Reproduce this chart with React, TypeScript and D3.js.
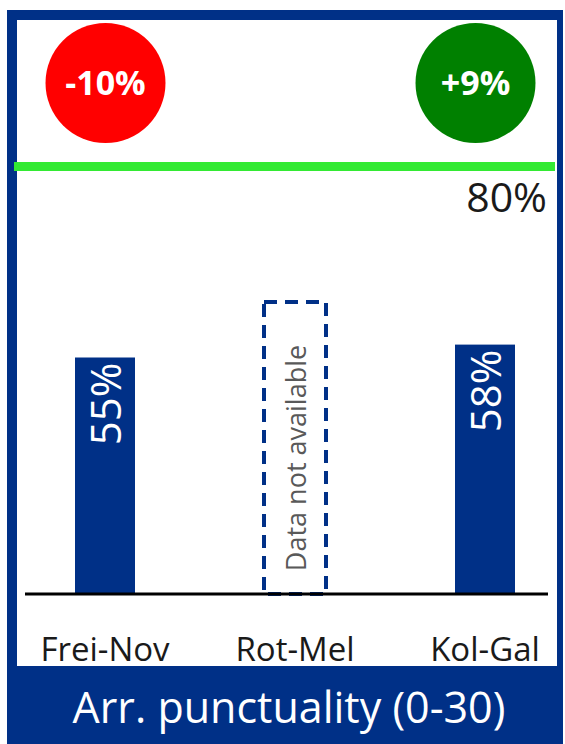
import React, { useEffect, useRef } from 'react';
import * as d3 from 'd3';

// chart data
const categories = ['Frei-Nov', 'Rot-Mel', 'Kol-Gal'];
const values: (number | null)[] = [55, null, 58];
const valueLabels = ['55%', 'Data not available', '58%'];
const changes = ['-10%', '+9%'];
const changeColors = ['#ff0000', '#008000'];
const target = 80;
const title = 'Arr. punctuality (0-30)';

const W = 565;
const H = 744;
const BLUE = '#003087';
const FONT = '"Open Sans", "Noto Sans", sans-serif';

const App = () => {
    const svgRef = useRef<SVGSVGElement>(null);

    useEffect(() => {
        const svg = d3.select(svgRef.current);
        svg.selectAll('*').remove();

        // frame: blue border with white inner panel and title band
        svg.append('rect').attr('x', 7).attr('y', 10).attr('width', 556).attr('height', H - 10).attr('fill', BLUE);
        svg.append('rect').attr('x', 17).attr('y', 20).attr('width', 540).attr('height', 646).attr('fill', '#ffffff');

        const x = d3.scalePoint<string>().domain(categories).range([105, 485]);
        const y = d3.scaleLinear().domain([0, 100]).range([594, 164]);
        const barW = 60;

        // change bubbles at top corners
        const bx = d3.scalePoint<string>().domain(changes).range([105.5, 475.5]);
        const bubbles = svg
            .selectAll('g.bubble')
            .data(changes)
            .enter()
            .append('g')
            .attr('class', 'bubble')
            .attr('transform', (d) => `translate(${bx(d)},83)`);
        bubbles.append('circle').attr('r', 60).attr('fill', (d, i) => changeColors[i]);
        bubbles
            .append('text')
            .attr('y', 12)
            .attr('text-anchor', 'middle')
            .style('font-family', FONT)
            .style('font-weight', 700)
            .style('font-size', '34px')
            .style('fill', '#ffffff')
            .text((d) => d);

        // target line (80%)
        svg.append('rect').attr('x', 14).attr('y', 162).attr('width', 541).attr('height', 9).attr('fill', '#33ea33');
        svg.append('text')
            .attr('x', 547)
            .attr('y', 212)
            .attr('text-anchor', 'end')
            .style('font-family', FONT)
            .style('font-size', '41px')
            .style('fill', '#1a1a1a')
            .text(`${target}%`);

        const rows = categories.map((c, i) => ({ cat: c, value: values[i], label: valueLabels[i] }));

        // bars
        svg.selectAll('rect.bar')
            .data(rows.filter((d) => d.value !== null))
            .enter()
            .append('rect')
            .attr('class', 'bar')
            .attr('x', (d) => x(d.cat)! - barW / 2)
            .attr('y', (d) => y(d.value as number))
            .attr('width', barW)
            .attr('height', (d) => y(0) - y(d.value as number))
            .attr('fill', BLUE);

        svg.selectAll('text.val')
            .data(rows.filter((d) => d.value !== null))
            .enter()
            .append('text')
            .attr('class', 'val')
            .attr('transform', (d) => `translate(${x(d.cat)! + 16},${y(d.value as number) + 5}) rotate(-90)`)
            .attr('text-anchor', 'end')
            .style('font-family', FONT)
            .style('font-size', '42px')
            .style('fill', '#ffffff')
            .text((d) => d.label);

        // missing data placeholder
        const missing = rows.filter((d) => d.value === null);
        svg.selectAll('rect.na')
            .data(missing)
            .enter()
            .append('rect')
            .attr('class', 'na')
            .attr('x', (d) => x(d.cat)! - 31)
            .attr('y', 302)
            .attr('width', 62)
            .attr('height', y(0) - 302)
            .attr('fill', 'none')
            .attr('stroke', BLUE)
            .attr('stroke-width', 4)
            .attr('stroke-dasharray', '13 8');
        svg.selectAll('text.na')
            .data(missing)
            .enter()
            .append('text')
            .attr('class', 'na')
            .attr('transform', (d) => `translate(${x(d.cat)! + 11},458) rotate(-90)`)
            .attr('text-anchor', 'middle')
            .style('font-family', FONT)
            .style('font-size', '27px')
            .style('fill', '#595959')
            .text((d) => d.label);

        // baseline
        svg.append('line')
            .attr('x1', 25)
            .attr('x2', 548)
            .attr('y1', y(0))
            .attr('y2', y(0))
            .attr('stroke', '#000000')
            .attr('stroke-width', 3);

        // category labels
        svg.selectAll('text.cat')
            .data(categories)
            .enter()
            .append('text')
            .attr('class', 'cat')
            .attr('x', (d) => x(d)!)
            .attr('y', 661)
            .attr('text-anchor', 'middle')
            .style('font-family', FONT)
            .style('font-size', '33px')
            .style('fill', '#1a1a1a')
            .text((d) => d);

        // title band text
        svg.append('text')
            .attr('x', 289)
            .attr('y', 723)
            .attr('text-anchor', 'middle')
            .style('font-family', FONT)
            .style('font-size', '43px')
            .style('fill', '#ffffff')
            .text(title);
    }, []);

    return (
        <svg
            ref={svgRef}
            width={W}
            height={H}
            style={{ position: 'absolute', left: 0, top: 0, background: '#ffffff' }}
        />
    );
};

export default App;
